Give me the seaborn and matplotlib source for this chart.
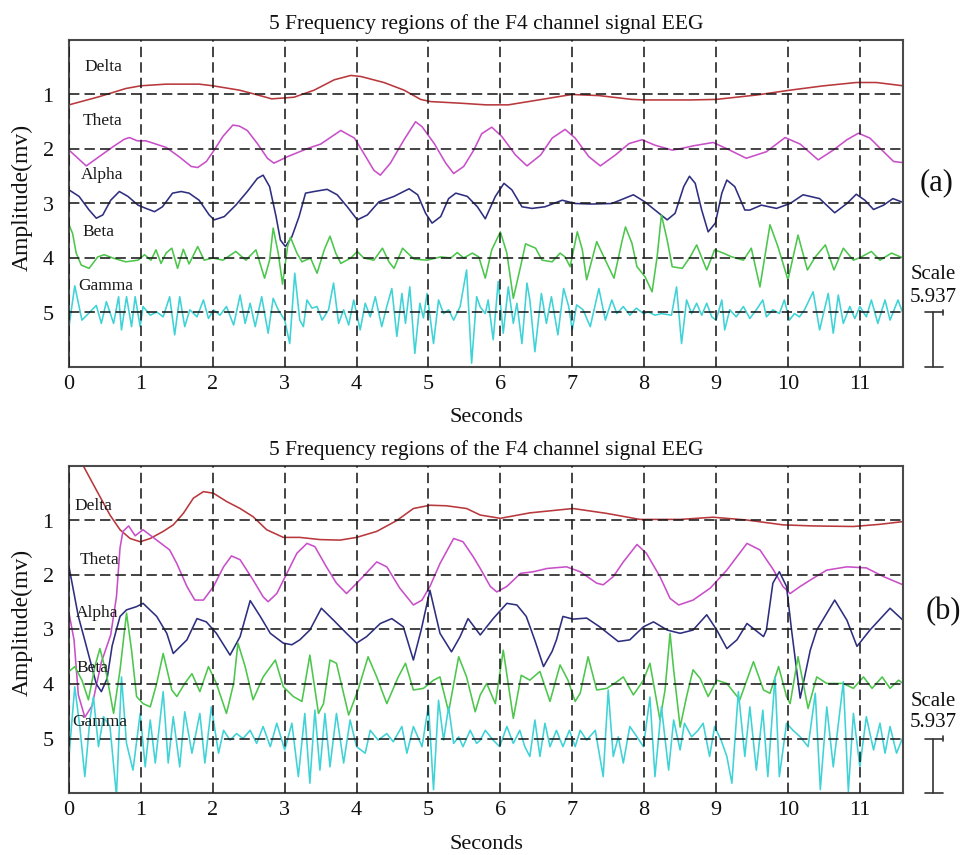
import matplotlib
matplotlib.use("Agg")
import matplotlib.pyplot as plt
import pandas as pd
import seaborn as sns

sns.set_style("white")
plt.rcParams["font.family"] = ["Liberation Serif", "DejaVu Serif"]

# ---------------------------------------------------------------------------
# Band-filtered F4 traces, (seconds, plotted offset in mv) pairs
# ---------------------------------------------------------------------------
a_delta = [(0.0, 1.19), (0.42, 1.04), (0.79, 0.89), (1.0, 0.84), (1.35, 0.81), (1.81, 0.81),
           (2.0, 0.84), (2.37, 0.92), (2.6, 1.0), (2.82, 1.08), (3.13, 1.05), (3.41, 0.92),
           (3.69, 0.73), (3.92, 0.65), (4.06, 0.67), (4.38, 0.78), (4.66, 0.92), (4.89, 1.09),
           (5.03, 1.13), (5.45, 1.16), (5.8, 1.19), (6.11, 1.19), (6.53, 1.10), (6.9, 1.02),
           (7.0, 1.0), (7.37, 1.02), (7.83, 1.09), (8.0, 1.10), (8.64, 1.10), (9.0, 1.09),
           (9.56, 1.01), (10.03, 0.92), (10.5, 0.84), (10.95, 0.78), (11.23, 0.78), (11.6, 0.84)]

a_theta = [(0.0, 2.02), (0.24, 2.31), (0.42, 2.14), (0.61, 1.96), (0.77, 1.82), (0.84, 1.79),
           (0.95, 1.85), (1.07, 1.85), (1.35, 1.97), (1.53, 2.14), (1.70, 2.32), (1.79, 2.34),
           (1.91, 2.23), (2.02, 2.02), (2.14, 1.77), (2.28, 1.56), (2.37, 1.58), (2.48, 1.66),
           (2.62, 1.90), (2.76, 2.17), (2.85, 2.26), (3.04, 2.14), (3.32, 1.99), (3.5, 1.91),
           (3.78, 1.66), (3.97, 1.80), (4.1, 2.08), (4.24, 2.39), (4.33, 2.48), (4.47, 2.26),
           (4.66, 1.83), (4.82, 1.50), (4.91, 1.59), (5.08, 1.90), (5.24, 2.26), (5.35, 2.45),
           (5.49, 2.32), (5.63, 2.02), (5.74, 1.72), (5.88, 1.60), (6.02, 1.77), (6.21, 2.11),
           (6.37, 2.31), (6.56, 2.11), (6.72, 1.80), (6.9, 1.64), (7.04, 1.80), (7.23, 2.14),
           (7.39, 2.31), (7.6, 2.11), (7.79, 1.90), (7.97, 1.83), (8.15, 1.93), (8.39, 2.02),
           (8.52, 1.99), (8.69, 1.94), (8.96, 1.88), (9.19, 2.02), (9.42, 2.17), (9.7, 2.05),
           (9.96, 1.79), (10.17, 1.91), (10.42, 2.20), (10.63, 2.02), (10.82, 1.83), (10.98, 1.71),
           (11.14, 1.80), (11.33, 2.05), (11.47, 2.23), (11.6, 2.25)]

a_alpha = [(0.0, 2.75), (0.14, 2.87), (0.28, 3.12), (0.38, 3.27), (0.47, 3.21), (0.58, 2.94),
           (0.70, 2.78), (0.82, 2.87), (0.96, 3.03), (1.07, 3.09), (1.19, 3.15), (1.30, 3.06),
           (1.44, 2.81), (1.56, 2.78), (1.67, 2.81), (1.81, 2.94), (1.95, 3.21), (2.02, 3.30),
           (2.16, 3.24), (2.32, 3.03), (2.48, 2.78), (2.62, 2.54), (2.70, 2.48), (2.79, 2.69),
           (2.88, 3.24), (2.94, 3.67), (3.01, 3.79), (3.1, 3.61), (3.2, 3.24), (3.29, 2.81),
           (3.41, 2.78), (3.59, 2.74), (3.73, 2.84), (3.87, 3.06), (4.01, 3.30), (4.15, 3.21),
           (4.31, 2.97), (4.52, 2.87), (4.73, 2.73), (4.85, 2.84), (4.96, 3.18), (5.05, 3.36),
           (5.17, 3.24), (5.28, 2.91), (5.38, 2.81), (5.54, 2.87), (5.68, 3.06), (5.79, 3.28),
           (5.93, 2.87), (6.05, 2.63), (6.16, 2.75), (6.3, 3.06), (6.44, 3.09), (6.62, 3.06),
           (6.86, 2.94), (7.04, 3.0), (7.27, 3.01), (7.55, 3.0), (7.85, 2.84), (8.01, 2.97),
           (8.15, 3.12), (8.32, 3.30), (8.43, 3.18), (8.55, 2.69), (8.63, 2.50), (8.71, 2.63),
           (8.8, 3.12), (8.89, 3.52), (8.99, 3.36), (9.08, 2.81), (9.15, 2.57), (9.26, 2.69),
           (9.4, 3.12), (9.47, 3.12), (9.63, 3.03), (9.84, 3.09), (10.03, 3.0), (10.21, 2.84),
           (10.44, 2.91), (10.65, 3.17), (10.82, 3.0), (10.95, 2.83), (11.07, 2.94), (11.19, 3.11),
           (11.33, 3.03), (11.46, 2.91), (11.6, 2.98)]

a_beta = [(0.0, 3.39), (0.05, 3.55), (0.10, 3.91), (0.17, 4.13), (0.28, 4.19), (0.40, 3.98),
          (0.49, 3.94), (0.61, 4.0), (0.79, 4.07), (0.96, 4.04), (1.05, 3.94), (1.14, 4.04),
          (1.21, 3.85), (1.28, 4.10), (1.35, 3.91), (1.43, 3.82), (1.51, 4.19), (1.59, 3.84),
          (1.67, 4.11), (1.79, 3.79), (1.88, 4.04), (2.0, 4.0), (2.14, 4.04), (2.32, 3.88),
          (2.46, 4.04), (2.60, 3.85), (2.72, 4.37), (2.79, 4.04), (2.84, 3.45), (2.91, 3.91),
          (2.97, 4.48), (3.04, 3.79), (3.08, 3.62), (3.17, 3.91), (3.24, 4.07), (3.36, 4.0),
          (3.45, 4.28), (3.55, 3.85), (3.63, 3.60), (3.71, 3.91), (3.78, 4.10), (3.92, 4.0),
          (4.01, 3.88), (4.1, 4.0), (4.24, 4.04), (4.36, 3.82), (4.45, 4.07), (4.52, 4.19),
          (4.64, 3.82), (4.71, 3.91), (4.80, 4.02), (4.98, 4.04), (5.17, 3.98), (5.31, 4.0),
          (5.4, 3.9), (5.49, 4.0), (5.61, 3.91), (5.70, 3.98), (5.79, 4.37), (5.88, 3.85),
          (6.0, 3.52), (6.09, 3.91), (6.18, 4.74), (6.28, 4.16), (6.35, 3.74), (6.49, 3.82),
          (6.58, 4.04), (6.72, 4.07), (6.83, 3.91), (6.9, 3.98), (6.97, 4.16), (7.07, 3.52),
          (7.14, 3.85), (7.2, 4.40), (7.34, 3.70), (7.46, 4.04), (7.58, 4.37), (7.69, 3.70),
          (7.74, 3.43), (7.83, 3.73), (7.9, 4.16), (8.01, 4.34), (8.11, 4.62), (8.18, 3.98),
          (8.24, 3.21), (8.32, 3.67), (8.39, 4.16), (8.53, 4.19), (8.64, 3.98), (8.73, 3.76),
          (8.87, 4.22), (8.98, 3.85), (9.1, 3.91), (9.22, 3.98), (9.38, 4.04), (9.49, 3.82),
          (9.61, 4.53), (9.75, 3.39), (9.86, 3.79), (10.0, 4.40), (10.14, 3.58), (10.27, 4.22),
          (10.38, 3.98), (10.52, 3.76), (10.64, 4.22), (10.77, 3.82), (10.91, 4.04), (11.02, 3.98),
          (11.16, 3.88), (11.28, 4.04), (11.44, 3.91), (11.6, 4.0)]

a_gamma = [(0.0, 5.26), (0.08, 4.51), (0.18, 5.14), (0.27, 5.02), (0.38, 4.87), (0.45, 5.20),
           (0.52, 4.80), (0.62, 5.20), (0.69, 4.71), (0.73, 5.32), (0.80, 4.71), (0.87, 5.26),
           (0.92, 4.71), (0.99, 5.26), (1.03, 4.89), (1.13, 5.05), (1.22, 4.99), (1.31, 5.08),
           (1.40, 4.71), (1.47, 5.41), (1.54, 4.71), (1.61, 5.26), (1.68, 4.95), (1.78, 5.08),
           (1.87, 4.77), (1.94, 5.11), (2.01, 4.95), (2.1, 5.05), (2.19, 4.89), (2.29, 5.23),
           (2.38, 4.68), (2.45, 5.20), (2.52, 4.83), (2.59, 5.26), (2.68, 4.71), (2.77, 5.38),
           (2.84, 4.74), (2.91, 4.95), (3.0, 5.14), (3.07, 5.57), (3.14, 4.28), (3.21, 5.14),
           (3.26, 5.26), (3.31, 4.77), (3.38, 4.92), (3.45, 4.89), (3.52, 5.14), (3.61, 4.95),
           (3.68, 4.46), (3.75, 5.20), (3.82, 4.95), (3.89, 5.23), (3.96, 4.77), (4.05, 5.32),
           (4.12, 4.83), (4.19, 5.08), (4.26, 4.71), (4.35, 5.26), (4.42, 4.89), (4.49, 4.56),
           (4.56, 5.44), (4.63, 4.65), (4.68, 5.2), (4.74, 4.53), (4.81, 5.75), (4.88, 4.83),
           (4.93, 5.1), (4.98, 4.65), (5.07, 5.57), (5.14, 4.77), (5.21, 5.02), (5.28, 4.95),
           (5.35, 5.14), (5.44, 4.89), (5.53, 4.22), (5.60, 5.93), (5.67, 4.71), (5.72, 4.9),
           (5.79, 5.02), (5.83, 4.77), (5.9, 5.50), (5.97, 4.43), (6.04, 5.38), (6.11, 4.53),
           (6.18, 5.20), (6.23, 4.83), (6.3, 5.57), (6.37, 4.46), (6.41, 4.77), (6.48, 5.72),
           (6.57, 4.65), (6.64, 5.20), (6.71, 4.71), (6.8, 5.41), (6.88, 4.56), (6.95, 4.89),
           (7.0, 5.32), (7.06, 4.86), (7.15, 4.95), (7.25, 5.26), (7.37, 4.56), (7.46, 5.14),
           (7.55, 4.77), (7.62, 5.02), (7.71, 4.89), (7.8, 5.05), (7.89, 4.92), (7.99, 5.02),
           (8.06, 4.99), (8.15, 5.05), (8.24, 5.02), (8.38, 5.05), (8.45, 4.53), (8.52, 5.57),
           (8.59, 4.77), (8.66, 5.02), (8.73, 4.83), (8.80, 5.05), (8.87, 4.83), (8.94, 5.08),
           (9.0, 5.14), (9.08, 4.77), (9.12, 5.32), (9.19, 4.95), (9.28, 5.08), (9.38, 4.89),
           (9.47, 5.11), (9.56, 4.95), (9.65, 4.77), (9.70, 5.08), (9.79, 4.95), (9.88, 5.02),
           (9.95, 4.77), (10.02, 5.14), (10.09, 5.02), (10.16, 5.08), (10.23, 4.95), (10.35, 4.62),
           (10.44, 5.32), (10.56, 4.65), (10.63, 5.38), (10.70, 4.68), (10.77, 5.20), (10.86, 4.89),
           (10.93, 5.11), (11.0, 4.89), (11.09, 5.08), (11.16, 4.77), (11.25, 5.20), (11.35, 4.77),
           (11.42, 5.14), (11.53, 4.77), (11.6, 5.02)]

b_delta = [(0.0, -0.5), (0.2, 0.0), (0.38, 0.44), (0.57, 0.90), (0.71, 1.17), (0.85, 1.33),
           (0.99, 1.39), (1.13, 1.33), (1.31, 1.20), (1.45, 1.08), (1.59, 0.87), (1.73, 0.59),
           (1.87, 0.47), (2.01, 0.50), (2.19, 0.65), (2.38, 0.78), (2.56, 0.93), (2.75, 1.17),
           (2.98, 1.31), (3.21, 1.31), (3.49, 1.35), (3.77, 1.36), (4.0, 1.31), (4.28, 1.20),
           (4.56, 1.0), (4.79, 0.78), (5.02, 0.72), (5.25, 0.73), (5.53, 0.78), (5.72, 0.90),
           (6.0, 0.96), (6.41, 0.86), (7.01, 0.78), (7.48, 0.87), (7.94, 0.98), (8.5, 0.98),
           (8.96, 0.94), (9.42, 0.99), (9.93, 1.08), (10.35, 1.10), (10.91, 1.11), (11.28, 1.07),
           (11.6, 1.02)]

b_theta = [(0.0, 2.7), (0.07, 3.19), (0.13, 4.2), (0.22, 4.61), (0.32, 4.4), (0.45, 3.6),
           (0.58, 3.1), (0.66, 2.4), (0.71, 1.5), (0.75, 1.2), (0.83, 1.10), (0.92, 1.28),
           (1.03, 1.17), (1.22, 1.36), (1.40, 1.54), (1.50, 1.79), (1.64, 2.21), (1.75, 2.46),
           (1.87, 2.46), (2.01, 2.21), (2.15, 1.85), (2.26, 1.65), (2.38, 1.72), (2.56, 2.09),
           (2.70, 2.40), (2.77, 2.49), (2.89, 2.34), (3.03, 1.97), (3.17, 1.60), (3.31, 1.42),
           (3.42, 1.48), (3.58, 1.85), (3.72, 2.15), (3.86, 2.34), (3.98, 2.18), (4.09, 2.03),
           (4.28, 1.76), (4.42, 1.85), (4.60, 2.24), (4.79, 2.55), (4.91, 2.46), (5.02, 2.21),
           (5.16, 1.79), (5.35, 1.33), (5.48, 1.39), (5.62, 1.66), (5.72, 1.88), (5.86, 2.21),
           (5.95, 2.31), (6.09, 2.21), (6.28, 1.97), (6.46, 1.94), (6.65, 1.88), (6.92, 1.85),
           (7.11, 1.94), (7.34, 2.15), (7.43, 2.18), (7.57, 2.03), (7.71, 1.76), (7.90, 1.44),
           (8.03, 1.60), (8.22, 2.03), (8.36, 2.43), (8.48, 2.55), (8.68, 2.46), (8.92, 2.24),
           (9.15, 1.91), (9.43, 1.42), (9.61, 1.54), (9.80, 1.91), (9.93, 2.21), (10.03, 2.34),
           (10.17, 2.21), (10.35, 2.06), (10.54, 1.91), (10.82, 1.85), (11.09, 1.87), (11.33, 2.03),
           (11.6, 2.18)]

b_alpha = [(0.0, 1.85), (0.05, 2.2), (0.13, 2.76), (0.22, 3.2), (0.30, 3.6), (0.38, 4.0),
           (0.45, 4.14), (0.53, 3.9), (0.60, 3.3), (0.66, 3.0), (0.71, 2.76), (0.80, 2.64),
           (0.94, 2.58), (1.03, 2.52), (1.22, 2.76), (1.36, 3.07), (1.45, 3.44), (1.64, 3.19),
           (1.78, 2.80), (1.91, 2.86), (2.05, 3.07), (2.24, 3.47), (2.38, 3.13), (2.52, 2.47),
           (2.66, 2.76), (2.80, 3.07), (2.98, 3.25), (3.10, 3.28), (3.21, 3.19), (3.35, 3.01),
           (3.51, 2.61), (3.68, 2.83), (3.86, 3.07), (4.0, 3.25), (4.14, 3.13), (4.33, 2.89),
           (4.49, 2.80), (4.65, 2.95), (4.79, 3.56), (4.90, 3.0), (5.02, 2.28), (5.16, 3.07),
           (5.32, 3.41), (5.44, 3.13), (5.55, 2.80), (5.72, 3.10), (5.90, 2.8), (6.09, 2.52),
           (6.23, 2.55), (6.36, 2.76), (6.48, 3.2), (6.60, 3.68), (6.72, 3.4), (6.78, 3.19),
           (6.87, 2.76), (7.01, 2.81), (7.20, 2.79), (7.38, 2.95), (7.64, 3.22), (7.80, 3.19),
           (7.99, 2.95), (8.13, 2.86), (8.32, 3.01), (8.50, 3.07), (8.68, 3.01), (8.87, 2.73),
           (9.01, 3.01), (9.15, 3.35), (9.29, 3.19), (9.43, 2.89), (9.66, 3.13), (9.70, 3.01),
           (9.79, 2.15), (9.88, 1.94), (9.98, 2.21), (10.05, 3.01), (10.17, 4.26), (10.31, 3.38),
           (10.40, 3.01), (10.65, 2.46), (10.82, 2.83), (10.96, 3.31), (11.14, 3.01), (11.42, 2.61),
           (11.6, 2.83)]

b_beta = [(0.0, 3.77), (0.08, 3.68), (0.18, 3.93), (0.27, 4.29), (0.36, 3.68), (0.43, 3.35),
          (0.52, 3.81), (0.62, 4.54), (0.71, 3.74), (0.80, 2.70), (0.87, 3.38), (0.94, 4.23),
          (1.03, 4.36), (1.13, 4.42), (1.22, 3.99), (1.31, 3.44), (1.43, 4.11), (1.50, 4.23),
          (1.61, 3.99), (1.71, 3.81), (1.82, 4.14), (1.94, 3.68), (2.05, 3.99), (2.19, 4.54),
          (2.29, 3.99), (2.35, 3.25), (2.45, 3.68), (2.56, 4.29), (2.70, 3.87), (2.87, 3.56),
          (2.98, 4.05), (3.12, 4.23), (3.24, 4.32), (3.35, 3.47), (3.47, 4.54), (3.54, 4.36),
          (3.63, 3.56), (3.72, 3.62), (3.89, 4.57), (4.02, 4.11), (4.16, 3.50), (4.28, 3.87),
          (4.42, 4.36), (4.58, 3.87), (4.68, 3.62), (4.79, 4.11), (4.93, 4.08), (5.07, 3.93),
          (5.16, 3.87), (5.28, 4.51), (5.42, 3.50), (5.53, 3.87), (5.65, 4.51), (5.72, 4.2),
          (5.81, 3.99), (5.93, 4.36), (6.04, 3.38), (6.18, 4.63), (6.29, 3.84), (6.41, 3.93),
          (6.55, 3.77), (6.69, 4.32), (6.83, 3.65), (6.94, 3.93), (7.04, 4.32), (7.11, 4.17),
          (7.22, 3.50), (7.34, 4.11), (7.48, 4.08), (7.62, 3.96), (7.71, 3.87), (7.85, 4.20),
          (7.99, 3.93), (8.08, 3.62), (8.22, 4.66), (8.29, 4.11), (8.36, 3.07), (8.41, 3.74),
          (8.50, 4.79), (8.59, 4.23), (8.68, 3.74), (8.78, 3.90), (8.89, 4.23), (9.01, 3.93),
          (9.15, 3.99), (9.33, 4.29), (9.52, 3.59), (9.66, 4.11), (9.75, 4.17), (9.87, 3.68),
          (9.98, 4.23), (10.03, 4.36), (10.14, 3.50), (10.28, 4.45), (10.40, 3.87), (10.54, 3.99),
          (10.63, 3.99), (10.77, 3.99), (10.91, 4.08), (11.05, 3.87), (11.17, 4.08), (11.31, 3.87),
          (11.42, 4.08), (11.54, 3.93), (11.6, 3.99)]

b_gamma = [(0.0, 5.33), (0.08, 4.05), (0.15, 4.78), (0.22, 5.70), (0.29, 4.66), (0.34, 4.24),
           (0.41, 5.15), (0.48, 4.60), (0.57, 4.78), (0.66, 6.05), (0.73, 3.87), (0.80, 5.09),
           (0.89, 5.58), (0.99, 4.54), (1.06, 5.52), (1.13, 4.66), (1.20, 5.45), (1.31, 4.14),
           (1.38, 5.45), (1.45, 4.60), (1.54, 5.52), (1.61, 4.51), (1.71, 5.27), (1.82, 4.54),
           (1.89, 5.45), (1.98, 4.42), (2.08, 5.27), (2.15, 4.85), (2.24, 5.03), (2.33, 4.91),
           (2.42, 5.0), (2.52, 4.85), (2.61, 5.09), (2.70, 4.78), (2.80, 5.15), (2.89, 4.72),
           (3.0, 5.21), (3.10, 4.72), (3.19, 5.70), (3.28, 4.54), (3.35, 5.82), (3.42, 4.48),
           (3.49, 5.58), (3.56, 4.54), (3.63, 5.52), (3.72, 4.54), (3.82, 5.45), (3.91, 4.66),
           (4.0, 5.15), (4.12, 5.27), (4.19, 4.85), (4.30, 5.03), (4.42, 4.91), (4.51, 5.06),
           (4.63, 4.78), (4.70, 5.27), (4.79, 4.78), (4.91, 5.15), (5.0, 4.39), (5.07, 5.94),
           (5.14, 4.30), (5.21, 5.03), (5.28, 4.42), (5.35, 5.09), (5.42, 4.97), (5.48, 5.15),
           (5.58, 4.85), (5.67, 5.09), (5.72, 5.03), (5.79, 4.85), (5.90, 5.03), (5.99, 5.15),
           (6.09, 4.78), (6.18, 5.09), (6.27, 4.85), (6.34, 5.15), (6.41, 5.33), (6.48, 4.66),
           (6.55, 5.33), (6.62, 4.72), (6.69, 5.15), (6.78, 4.85), (6.87, 5.15), (6.96, 4.85),
           (7.04, 5.15), (7.11, 4.85), (7.20, 5.03), (7.32, 4.85), (7.43, 5.70), (7.50, 4.11),
           (7.57, 5.33), (7.64, 4.97), (7.71, 5.45), (7.80, 4.78), (7.90, 4.97), (7.99, 5.15),
           (8.08, 4.24), (8.15, 5.70), (8.24, 4.42), (8.34, 5.58), (8.41, 4.66), (8.50, 5.21),
           (8.56, 4.72), (8.66, 4.97), (8.75, 4.85), (8.82, 4.72), (8.91, 5.33), (8.98, 4.78),
           (9.07, 5.03), (9.15, 5.33), (9.22, 5.82), (9.31, 4.14), (9.40, 5.33), (9.47, 4.42),
           (9.56, 5.58), (9.65, 4.48), (9.72, 5.70), (9.82, 3.87), (9.88, 5.70), (9.98, 4.72),
           (10.07, 4.85), (10.17, 4.97), (10.28, 5.15), (10.38, 4.17), (10.45, 5.94), (10.54, 4.42),
           (10.63, 5.52), (10.77, 3.96), (10.84, 5.97), (10.91, 4.54), (11.00, 5.52), (11.09, 4.60),
           (11.19, 5.21), (11.28, 4.72), (11.35, 5.27), (11.42, 4.78), (11.51, 5.27), (11.6, 4.97)]

BANDS = ["Delta", "Theta", "Alpha", "Beta", "Gamma"]
BAND_COLORS = ["#b8383c", "#c94fc9", "#2e2e80", "#4cc64c", "#3fd2d6"]
X_TICKS = list(range(0, 12))
Y_TICKS = [1, 2, 3, 4, 5]
TITLE = "5 Frequency regions of the F4 channel signal EEG"
SCALE_VALUE = "5.937"

panels = [
    {"traces": [a_delta, a_theta, a_alpha, a_beta, a_gamma],
     "labels": [(0.22, 0.49), (0.19, 1.48), (0.16, 2.48), (0.19, 3.52), (0.13, 4.52)],
     "tag": "(a)", "tag_xy": (12.07, 2.62), "scale_txt_y": (4.31, 4.72),
     "rect": [69 / 963, 1 - 367 / 855, 834 / 963, 327 / 855],
     "ylabel_y": 1 - 197 / 855, "xlabel_y": 1 - 417 / 855},
    {"traces": [b_delta, b_theta, b_alpha, b_beta, b_gamma],
     "labels": [(0.07, 0.73), (0.15, 1.72), (0.10, 2.70), (0.11, 3.71), (0.04, 4.70)],
     "tag": "(b)", "tag_xy": (12.16, 2.68), "scale_txt_y": (4.33, 4.70),
     "rect": [69 / 963, 1 - 793 / 855, 834 / 963, 327 / 855],
     "ylabel_y": 1 - 622 / 855, "xlabel_y": 1 - 844 / 855},
]

fig = plt.figure(figsize=(9.63, 8.55), dpi=100)

for p in panels:
    ax = fig.add_axes(p["rect"])
    for band, color, pts in zip(BANDS, BAND_COLORS, p["traces"]):
        df = pd.DataFrame(pts, columns=["t", "v"])
        sns.lineplot(data=df, x="t", y="v", ax=ax, color=color, linewidth=1.15,
                     sort=False, estimator=None, solid_joinstyle="round")

    ax.set_xlim(0, 11.6)
    ax.set_ylim(6, 0)
    ax.set_xticks(X_TICKS)
    ax.set_yticks(Y_TICKS)
    ax.set_xticklabels([str(v) for v in X_TICKS])
    ax.set_yticklabels([str(v) for v in Y_TICKS])
    ax.tick_params(axis="both", length=0, labelsize=16, colors="#111111")
    ax.tick_params(axis="x", pad=6)
    ax.tick_params(axis="y", pad=11)
    ax.set_xlabel("")
    ax.set_ylabel("")
    ax.set_axisbelow(False)
    ax.grid(True, color="#1a1a1a", linestyle=(0, (6.5, 3.2)), linewidth=1.15)
    for s in ax.spines.values():
        s.set_color("#4a4a4a")
        s.set_linewidth(1.5)
        s.set_visible(True)
    ax.set_title(TITLE, fontsize=15.5, pad=8, color="#111111")

    for name, (lx, ly) in zip(BANDS, p["labels"]):
        ax.text(lx, ly, name, fontsize=12.5, ha="left", va="center", color="#1a1a1a")

    ax.text(*p["tag_xy"], p["tag"], fontsize=22, ha="center", va="center",
            color="#111111", clip_on=False)

    # amplitude scale bar to the right of the plotting area
    sx = 12.02
    bar = dict(color="#333333", linewidth=1.2, clip_on=False)
    ax.plot([sx, sx], [5, 6], **bar)
    ax.plot([sx - 0.12, sx + 0.13], [5, 5], **bar)
    ax.plot([sx - 0.12, sx + 0.13], [6, 6], **bar)
    ax.plot([sx + 0.13, sx + 0.13], [4.95, 5.05], **bar)
    ax.text(sx, p["scale_txt_y"][0], "Scale", fontsize=15, ha="center", va="center",
            color="#111111", clip_on=False)
    ax.text(sx, p["scale_txt_y"][1], SCALE_VALUE, fontsize=15, ha="center", va="center",
            color="#111111", clip_on=False)

    fig.text(22 / 963, p["ylabel_y"], "Amplitude(mv)", rotation=90, fontsize=17,
             ha="center", va="center", color="#111111")
    fig.text(486 / 963, p["xlabel_y"], "Seconds", fontsize=16, ha="center", va="center",
             color="#111111")

fig.savefig("out.png", dpi=100, facecolor="white")
